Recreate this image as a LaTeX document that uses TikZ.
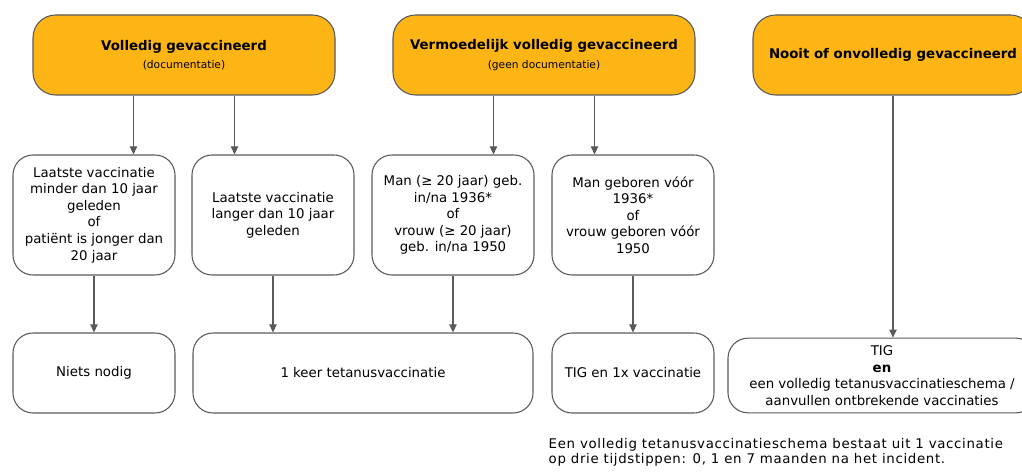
\documentclass[tikz,border=0pt]{standalone}
\usepackage{fontspec}
\setmainfont{DejaVu Sans}
\usepackage{xcolor}
\usetikzlibrary{arrows.meta,calc,positioning}
\definecolor{oranje}{HTML}{FDB515}
\definecolor{lijn}{HTML}{5A5A5A}

\begin{document}
\begin{tikzpicture}[x=0.75pt,y=-0.75pt,
  kop/.style={draw=lijn,line width=0.8pt,fill=oranje,rounded corners=17pt,align=center,
    minimum width=226.5pt,minimum height=60pt,font=\fontsize{10}{12}\selectfont\bfseries},
  vak/.style={draw=lijn,line width=0.8pt,rounded corners=15pt,align=center,
    minimum width=121.5pt,minimum height=90pt,font=\fontsize{10}{12.4}\selectfont},
  uitkomst/.style={vak,minimum height=60pt},
  pijl/.style={draw=lijn,line width=0.8pt,-{Triangle[length=6pt,width=5.5pt]}}]
\useasboundingbox (0,0) rectangle (1022,473);
\clip (0,0) rectangle (1022,473);

\node[kop] (vol) at (184,55) {Volledig gevaccineerd\\[2pt]{\fontsize{8}{10}\selectfont\mdseries (documentatie)}};
\node[kop] (verm) at (544,55) {Vermoedelijk volledig gevaccineerd\\[2pt]{\fontsize{8}{10}\selectfont\mdseries (geen documentatie)}};
\node[kop,minimum width=210pt] (nooit) at (893,55) {Nooit of onvolledig gevaccineerd};

\node[vak] (kort) at (94,215) {Laatste vaccinatie\\minder dan 10 jaar\\geleden\\of\\patiënt is jonger dan\\20 jaar};
\node[vak] (lang) at (273,215) {Laatste vaccinatie\\langer dan 10 jaar\\geleden};
\node[vak] (na) at (453,215) {Man (≥ 20 jaar) geb.\\in/na 1936*\\of\\vrouw (≥ 20 jaar)\\geb. in/na 1950};
\node[vak] (voor) at (633,215) {Man geboren vóór\\1936*\\of\\vrouw geboren vóór\\1950};

\node[uitkomst] (niets) at (94,373) {Niets nodig};
\node[uitkomst,minimum width=255pt] (keer) at (363,373) {1 keer tetanusvaccinatie};
\node[uitkomst] (tig) at (633,373) {TIG en 1x vaccinatie};
\node[uitkomst,minimum width=231pt,minimum height=56pt] (schema) at (882,375.5) {TIG\\\textbf{en}\\een volledig tetanusvaccinatieschema /\\aanvullen ontbrekende vaccinaties};

\node[anchor=west,align=left,font=\fontsize{10}{11.3}\selectfont\addfontfeature{LetterSpace=5}] (noot) at (544,452) {Een volledig tetanusvaccinatieschema bestaat uit 1 vaccinatie\\op drie tijdstippen: 0, 1 en 7 maanden na het incident.};

\coordinate (v1) at ($(vol.south west)!1/3!(vol.south east)$);
\coordinate (v2) at ($(vol.south west)!2/3!(vol.south east)$);
\coordinate (w1) at ($(verm.south west)!1/3!(verm.south east)$);
\coordinate (w2) at ($(verm.south west)!2/3!(verm.south east)$);
\draw[pijl] (v1) -- (v1 |- kort.north);
\draw[pijl] (v2) -- (v2 |- lang.north);
\draw[pijl] (w1) -- (w1 |- na.north);
\draw[pijl] (w2) -- (w2 |- voor.north);
\draw[pijl] (kort) -- (niets);
\draw[pijl] (lang.south) -- (lang.south |- keer.north);
\draw[pijl] (na.south) -- (na.south |- keer.north);
\draw[pijl] (voor) -- (tig);
\draw[pijl] (nooit.south) -- (nooit.south |- schema.north);
\end{tikzpicture}
\end{document}
